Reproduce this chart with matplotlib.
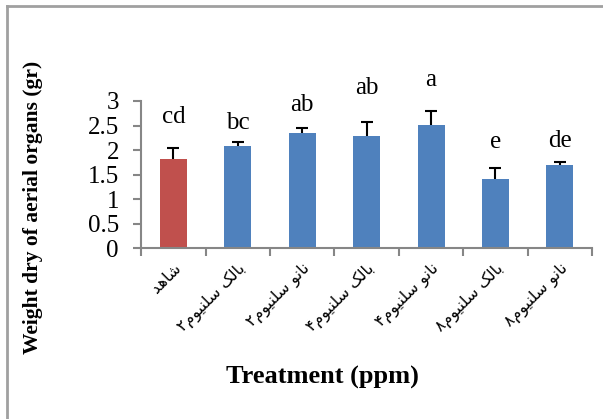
import matplotlib
matplotlib.use('Agg')
from matplotlib import pyplot as plt
from matplotlib.lines import Line2D

# data
treatments = ['شاهد', 'بالک سلنیوم۲', 'نانو سلنیوم۲', 'بالک سلنیوم۴',
              'نانو سلنیوم۴', 'بالک سلنیوم۸', 'نانو سلنیوم۸']
weights = [1.82, 2.09, 2.35, 2.29, 2.52, 1.42, 1.70]
errors = [0.23, 0.08, 0.10, 0.28, 0.27, 0.21, 0.05]
letters = ['cd', 'bc', 'ab', 'ab', 'a', 'e', 'de']
letter_y = [2.67, 2.55, 2.92, 3.26, 3.43, 2.17, 2.18]
colors = ['#C0504D', '#4F81BD', '#4F81BD', '#4F81BD', '#4F81BD', '#4F81BD', '#4F81BD']

# arabic shaping by hand (matplotlib draws letters isolated and left to right)
forms = {
    'ش': ('\uFEB5', '\uFEB6', '\uFEB7', '\uFEB8'),
    'ا': ('\uFE8D', '\uFE8E', None, None),
    'ه': ('\uFEE9', '\uFEEA', '\uFEEB', '\uFEEC'),
    'د': ('\uFEA9', '\uFEAA', None, None),
    'ب': ('\uFE8F', '\uFE90', '\uFE91', '\uFE92'),
    'ل': ('\uFEDD', '\uFEDE', '\uFEDF', '\uFEE0'),
    'ک': ('\uFB8E', '\uFB8F', '\uFB90', '\uFB91'),
    'س': ('\uFEB1', '\uFEB2', '\uFEB3', '\uFEB4'),
    'ن': ('\uFEE5', '\uFEE6', '\uFEE7', '\uFEE8'),
    'ی': ('\uFBFC', '\uFBFD', '\uFBFE', '\uFBFF'),
    'و': ('\uFEED', '\uFEEE', None, None),
    'م': ('\uFEE1', '\uFEE2', '\uFEE3', '\uFEE4'),
}


def shape(word):
    out = []
    for i, ch in enumerate(word):
        if ch not in forms:
            out.append(ch)
            continue
        prev = word[i - 1] if i > 0 else ''
        nxt = word[i + 1] if i + 1 < len(word) else ''
        join_prev = prev in forms and forms[prev][2] is not None
        join_next = nxt in forms and forms[ch][2] is not None
        iso, fin, ini, med = forms[ch]
        if join_prev and join_next:
            out.append(med)
        elif join_prev:
            out.append(fin)
        elif join_next:
            out.append(ini)
        else:
            out.append(iso)
    return ''.join(out)[::-1]


fig = plt.figure(figsize=(6.03, 4.19), dpi=100)
ax = fig.add_axes([0.234, 0.407, 0.748, 0.352])

x = list(range(len(treatments)))
# symmetric error bars drawn under the bars, so only the upper half shows
ax.errorbar(x, weights, yerr=errors, fmt='none', ecolor='black',
            elinewidth=1.5, capsize=4, capthick=1.5, zorder=1)
ax.bar(x, weights, width=0.42, color=colors, zorder=2)

for i in x:
    ax.text(i, letter_y[i], letters[i], ha='center', va='center',
            fontsize=18, family='Liberation Serif', clip_on=False)

ax.set_xlim(-0.5, len(treatments) - 0.5)
ax.set_ylim(0, 3)
ax.set_yticks([0, 0.5, 1, 1.5, 2, 2.5, 3])
ax.set_yticklabels(['0', '0.5', '1', '1.5', '2', '2.5', '3'],
                   family='Liberation Serif', fontsize=18)
ax.set_xticks([i - 0.5 for i in range(len(treatments) + 1)])
ax.set_xticklabels([])
ax.tick_params(axis='both', color='#868686', width=1.5, length=6)
ax.tick_params(axis='y', pad=10)

for i, name in enumerate(treatments):
    ax.text(i + 0.08, -0.36, shape(name), rotation=45, rotation_mode='anchor',
            ha='right', va='center', fontsize=11.5, family='DejaVu Sans')

for side in ['top', 'right']:
    ax.spines[side].set_visible(False)
for side in ['left', 'bottom']:
    ax.spines[side].set_color('#868686')
    ax.spines[side].set_linewidth(1.5)

fig.text(0.055, 0.506, 'Weight dry of aerial organs (gr)', rotation=90,
         ha='center', va='center', fontsize=15.5, fontweight='bold',
         family='Liberation Serif')
fig.text(0.534, 0.098, 'Treatment (ppm)', ha='center', va='center',
         fontsize=19, fontweight='bold', family='Liberation Serif')

# outer frame (only top and left edges are visible in the original crop)
fig.add_artist(Line2D([0.012, 1.0], [0.985, 0.985], color='#A0A0A0', lw=2,
                      transform=fig.transFigure))
fig.add_artist(Line2D([0.012, 0.012], [0.0, 0.985], color='#A0A0A0', lw=2,
                      transform=fig.transFigure))

fig.savefig('out.png', dpi=100)
